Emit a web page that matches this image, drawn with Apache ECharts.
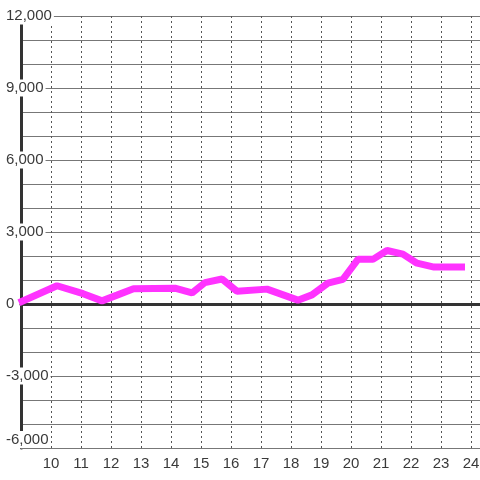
<!DOCTYPE html>
<html>
<head>
<meta charset="utf-8">
<script src="https://cdn.jsdelivr.net/npm/echarts@6/dist/echarts.min.js"></script>
<style>
  html, body { margin: 0; padding: 0; background: #fff; overflow: hidden; }
  #chart { width: 480px; height: 480px; }
</style>
</head>
<body>
<div id="chart"></div>
<script>
  // hour of day (x) and value (y) of each vertex
  var hours = [8.93, 10.2, 11.07, 11.7, 12.2, 12.75, 14.13, 14.7, 15.13, 15.7, 16.2, 17.2,
               18.23, 18.7, 19.23, 19.73, 20.23, 20.73, 21.2, 21.73, 22.2, 22.77, 23.8];
  var values = [50, 760, 430, 130, 370, 640, 660, 460, 890, 1040, 530, 620,
                160, 380, 870, 1030, 1860, 1860, 2230, 2080, 1700, 1540, 1540];

  var yMin = -6000, yMax = 12000, yStep = 3000;
  var xMin = 9, xMax = 24.3;

  var font = 'Liberation Sans';
  var points = [];
  for (var i = 0; i < hours.length; i++) {
    points.push([hours[i], values[i]]);
  }

  var chart = echarts.init(document.getElementById('chart'));
  var option = {
    animation: false,
    grid: { left: 21, right: 0, top: 16, bottom: 32, containLabel: false, outerBoundsMode: 'none' },
    xAxis: [
      {
        type: 'value',
        min: xMin,
        max: xMax,
        interval: 1,
        axisLine: { show: true, onZero: false, lineStyle: { color: '#777', width: 1 } },
        axisTick: { show: false },
        axisLabel: {
          color: '#3a3a3a', fontSize: 15, fontFamily: font, margin: 8,
          showMinLabel: false,
          formatter: function (v) { return Number.isInteger(v) ? String(v) : ''; }
        },
        splitLine: { show: true, lineStyle: { color: '#555', width: 1, type: [2, 3] } }
      },
      {
        // thick line at zero
        type: 'value',
        min: xMin,
        max: xMax,
        position: 'bottom',
        axisLine: { show: true, onZero: true, lineStyle: { color: '#333', width: 3 } },
        axisTick: { show: false },
        axisLabel: { show: false },
        splitLine: { show: false }
      }
    ],
    yAxis: [
      {
        type: 'value',
        min: yMin,
        max: yMax,
        interval: yStep,
        axisLine: { show: true, lineStyle: { color: '#333', width: 3 } },
        axisTick: { show: false },
        axisLabel: { show: false },
        splitLine: { show: true, lineStyle: { color: '#777', width: 1 } },
        minorTick: { show: false, splitNumber: 3 },
        minorSplitLine: { show: true, lineStyle: { color: '#777', width: 1 } }
      },
      {
        // labels on top of axis line and grid
        type: 'value',
        min: yMin,
        max: yMax,
        interval: yStep,
        z: 10,
        axisLine: { show: false },
        axisTick: { show: false },
        splitLine: { show: false },
        position: 'left',
        axisLabel: {
          color: '#3a3a3a', fontSize: 15, fontFamily: font,
          align: 'left', margin: 15,
          backgroundColor: '#fff', padding: [1, 2, 1, 0],
          verticalAlignMinLabel: 'bottom',
          formatter: function (v) { return v.toLocaleString('en-US'); }
        }
      }
    ],
    series: [
      {
        type: 'line',
        data: points,
        xAxisIndex: 0,
        yAxisIndex: 0,
        showSymbol: false,
        clip: false,
        lineStyle: { color: '#ff33ff', width: 7 },
        z: 3
      }
    ]
  };
  chart.setOption(option);
</script>
</body>
</html>
